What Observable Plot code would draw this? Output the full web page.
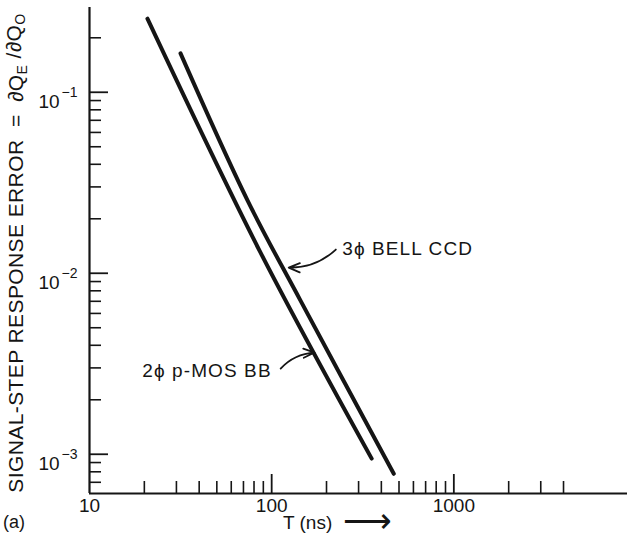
<!DOCTYPE html>
<html>
<head>
<meta charset="utf-8">
<script src="https://cdn.jsdelivr.net/npm/d3@7"></script>
<script src="https://cdn.jsdelivr.net/npm/@observablehq/plot@0.6"></script>
<style>
  html, body { margin: 0; padding: 0; background: #fff; }
  #chart { width: 636px; height: 542px; }
</style>
</head>
<body>
<div id="chart"></div>
<script>
// ---- Data ----
const X_MIN = 10, X_MAX = 8980;          // T (ns) axis range
const Y_MIN = 6.07e-4, Y_MAX = 0.294;    // error axis range

// 2phi p-MOS BB curve
const mosT   = [20.8, 85.9, 354];
const mosErr = [0.255, 0.0133, 9.46e-4];
// 3phi BELL CCD curve
const bellT   = [31.6, 73.8, 144, 468];
const bellErr = [0.164, 0.0252, 0.00706, 7.8e-4];

// ticks
const xLabelTicks = [10, 100, 1000];
const xMajorTicks = [100, 1000];
const xMinorTicks = [20, 30, 40, 50, 60, 70, 80, 90, 200, 300, 400, 500, 600, 700, 800, 900, 2000, 3000, 4000];
const yLabelTicks = [1e-1, 1e-2, 1e-3];
const yLabelExp   = ["−1", "−2", "−3"];
const yMajorTicks = [1e-1, 1e-2, 1e-3];
const yMinorTicks = [2e-1,
  2e-2, 3e-2, 4e-2, 5e-2, 6e-2, 7e-2, 8e-2, 9e-2,
  2e-3, 3e-3, 4e-3, 5e-3, 6e-3, 7e-3, 8e-3, 9e-3,
  7e-4, 8e-4, 9e-4];

// annotations: [p-MOS, BELL]
const mosLabel  = {name: "2ϕ p-MOS BB", T: 100, err: 0.0029};
const bellLabel = {name: "3ϕ BELL CCD", T: 244, err: 0.01369};
const arrowT1   = [112, 225];
const arrowErr1 = [0.002976, 0.01352];
const arrowT2   = [172, 124];
const arrowErr2 = [0.003648, 0.01075];

// ---- Build tables ----
const mos  = mosT.map((t, i) => ({T: t, err: mosErr[i]}));
const bell = bellT.map((t, i) => ({T: t, err: bellErr[i]}));
const arrows = arrowT1.map((t, i) => ({x1: t, y1: arrowErr1[i], x2: arrowT2[i], y2: arrowErr2[i]}));

const FONT = "'Liberation Sans', Arial, Helvetica, sans-serif";
const INK = "#151515";

const chart = Plot.plot({
  width: 636,
  height: 542,
  marginLeft: 89,
  marginRight: 9,
  marginTop: 7,
  marginBottom: 49,
  x: {type: "log", domain: [X_MIN, X_MAX]},
  y: {type: "log", domain: [Y_MIN, Y_MAX]},
  style: {fontFamily: FONT, fontSize: "19px", color: INK, background: "#fff", overflow: "visible"},
  marks: [
    // inward tick marks
    Plot.axisX(xMinorTicks, {tickSize: 12, dy: -12, fill: "none", strokeWidth: 1.6, label: null}),
    Plot.axisX(xMajorTicks, {tickSize: 19, dy: -19, fill: "none", strokeWidth: 1.8, label: null}),
    Plot.axisX(xLabelTicks, {tickSize: 0, tickPadding: 5, tickFormat: d => String(d), label: null}),
    Plot.axisY(yMinorTicks, {tickSize: 12, dx: 12, fill: "none", strokeWidth: 1.6, label: null}),
    Plot.axisY(yMajorTicks, {tickSize: 19, dx: 19, fill: "none", strokeWidth: 1.8, label: null}),
    Plot.axisY(yLabelTicks, {tickSize: 0, tickPadding: 12, tickFormat: d => "10", label: null}),
    // axis lines
    Plot.ruleX([X_MIN], {stroke: INK, strokeWidth: 2.2}),
    Plot.ruleY([Y_MIN], {stroke: INK, strokeWidth: 2.2}),
    // curves
    Plot.line(mos,  {x: "T", y: "err", stroke: INK, strokeWidth: 4, curve: "catmull-rom", strokeLinecap: "round"}),
    Plot.line(bell, {x: "T", y: "err", stroke: INK, strokeWidth: 4, curve: "catmull-rom", strokeLinecap: "round"}),
    // annotations
    Plot.arrow(arrows, {x1: "x1", y1: "y1", x2: "x2", y2: "y2", bend: 22, headLength: 10, headAngle: 45, stroke: INK, strokeWidth: 1.8}),
    Plot.text([mosLabel],  {x: "T", y: "err", text: "name", textAnchor: "end", fontSize: 19, fill: INK}),
    Plot.text([bellLabel], {x: "T", y: "err", text: "name", textAnchor: "start", fontSize: 19, fill: INK})
  ]
});

document.getElementById("chart").appendChild(chart);

// ---- Post-process: letter spacing, superscripts on y tick labels, y label with subscripts, bottom texts ----
const svg = d3.select(chart);
svg.selectAll("g[aria-label='text'] text").attr("letter-spacing", "1.1");
svg.selectAll("g[aria-label='y-axis tick label'] text").each(function(d, i) {
  const t = d3.select(this);
  t.text("10");
  t.attr("dy", "0.5em");
  t.append("tspan").attr("dy", "-0.75em").attr("font-size", "14px").attr("dx", "2").text(yLabelExp[i]);
});

// y axis title
const yl = svg.append("text")
  .attr("transform", "translate(23,253) rotate(-90)")
  .attr("text-anchor", "middle")
  .attr("font-family", FONT)
  .attr("font-size", 21)
  .attr("letter-spacing", "0.4")
  .attr("fill", INK)
  .style("white-space", "pre");
yl.append("tspan").text("SIGNAL-STEP RESPONSE ERROR  =  ∂Q");
yl.append("tspan").attr("dy", "0.3em").attr("font-size", 14).text("E");
yl.append("tspan").attr("dy", "-0.3em").text(" /∂Q");
yl.append("tspan").attr("dy", "0.3em").attr("font-size", 14).text("O");

// bottom texts
svg.append("text").attr("x", 3).attr("y", 528).attr("text-anchor", "start")
  .attr("font-family", FONT).attr("font-size", 18).attr("fill", INK).text("(a)");
const tl = svg.append("text").attr("x", 283).attr("y", 529).attr("text-anchor", "start")
  .attr("font-family", FONT).attr("font-size", 19).attr("fill", INK).style("white-space", "pre");
tl.append("tspan").text("T (ns)  ");
tl.append("tspan").attr("font-size", 34).attr("dy", 3).text("⟶");
</script>
</body>
</html>
